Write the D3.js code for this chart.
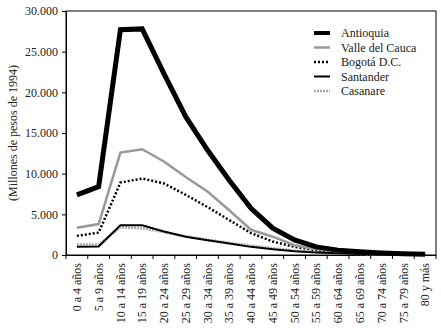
<!DOCTYPE html>
<html>
<head>
<meta charset="utf-8">
<script src="https://cdn.jsdelivr.net/npm/d3@7"></script>
<style>
  html, body { margin: 0; padding: 0; background: #fff; }
  svg text { font-family: "Liberation Serif", "DejaVu Serif", serif; fill: #222; }
</style>
</head>
<body>
<div id="chart"></div>
<script>
// Age groups
const categories = [
  '0 a 4 años', '5 a 9 años', '10 a 14 años', '15 a 19 años', '20 a 24 años',
  '25 a 29 años', '30 a 34 años', '35 a 39 años', '40 a 44 años', '45 a 49 años',
  '50 a 54 años', '55 a 59 años', '60 a 64 años', '65 a 69 años', '70 a 74 años',
  '75 a 79 años', '80 y más'
];

// Millones de pesos de 1994
const antioquia = [7400, 8400, 27700, 27800, 22300, 17000, 12900, 9200, 5750, 3300, 1850, 1000, 600, 400, 250, 150, 100];
const valle = [3350, 3800, 12600, 13000, 11500, 9600, 7800, 5500, 3100, 2250, 1200, 700, 450, 300, 200, 120, 80];
const bogota = [2350, 2750, 8900, 9400, 8800, 7400, 5900, 4300, 2700, 1650, 1000, 600, 350, 200, 120, 80, 50];
const santander = [1000, 1050, 3650, 3650, 2900, 2250, 1800, 1400, 1000, 700, 450, 300, 200, 120, 80, 50, 40];
const casanare = [1300, 1300, 3400, 3300, 2800, 2300, 1900, 1500, 1150, 850, 550, 350, 200, 120, 70, 40, 30];

const yTicks = [0, 5000, 10000, 15000, 20000, 25000, 30000];

const series = [
  { name: 'Antioquia', values: antioquia, color: '#000', width: 5, dash: null },
  { name: 'Valle del Cauca', values: valle, color: '#999', width: 2.5, dash: null },
  { name: 'Bogotá D.C.', values: bogota, color: '#000', width: 2.5, dash: '2,2' },
  { name: 'Santander', values: santander, color: '#000', width: 2, dash: null },
  { name: 'Casanare', values: casanare, color: '#aaa', width: 2.5, dash: '2,1' }
];

const width = 441;
const height = 328;
const margin = { top: 11, right: 5, bottom: 73, left: 66 };
const innerW = width - margin.left - margin.right;
const innerH = height - margin.top - margin.bottom;
const FS = '12px';

const locale = d3.formatLocale({ decimal: ',', thousands: '.', grouping: [3], currency: ['$', ''] });
const fmt = locale.format(',');

const svg = d3.select('#chart').append('svg').attr('width', width).attr('height', height);
const g = svg.append('g').attr('transform', `translate(${margin.left},${margin.top})`);

const x = d3.scaleBand().domain(categories).range([0, innerW]);
const y = d3.scaleLinear().domain([0, 30000]).range([innerH, 0]);

// frame
g.append('rect')
  .attr('x', 0).attr('y', 0)
  .attr('width', innerW).attr('height', innerH)
  .attr('fill', 'none').attr('stroke', '#000').attr('stroke-width', 1);

// y axis
const yAxis = g.append('g')
  .call(d3.axisLeft(y).tickValues(yTicks).tickSize(4).tickPadding(4).tickFormat(fmt));
yAxis.selectAll('text').style('font-size', FS);

// x axis: ticks at band boundaries
const xAxis = g.append('g').attr('transform', `translate(0,${innerH})`)
  .call(d3.axisBottom(x).tickSize(0).tickPadding(0));
xAxis.selectAll('.tick line').remove();
xAxis.selectAll('text')
  .style('font-size', FS)
  .attr('text-anchor', 'end')
  .attr('dy', '0.35em')
  .attr('transform', 'translate(0,8) rotate(-90)')
  .attr('x', 0).attr('y', 0);

const bounds = categories.map((c) => x(c)).concat([innerW]);
xAxis.selectAll('line.bt')
  .data(bounds)
  .enter()
  .append('line')
  .attr('class', 'bt')
  .attr('x1', (d) => d).attr('x2', (d) => d)
  .attr('y1', 0).attr('y2', 4)
  .attr('stroke', '#000');

svg.selectAll('.domain').attr('stroke', '#000');
svg.selectAll('.tick line').attr('stroke', '#000');

// lines
const line = d3.line()
  .x((d, i) => x(categories[i]) + x.bandwidth() / 2)
  .y((d) => y(d));

series.slice().reverse().forEach((s) => {
  g.append('path')
    .datum(s.values)
    .attr('fill', 'none')
    .attr('stroke', s.color)
    .attr('stroke-width', s.width)
    .attr('stroke-dasharray', s.dash)
    .attr('stroke-linejoin', 'miter')
    .attr('d', line);
});

// legend
const legend = svg.append('g').attr('transform', 'translate(314,33)');
series.forEach((s, i) => {
  const row = legend.append('g').attr('transform', `translate(0,${i * 14.5})`);
  row.append('line')
    .attr('x1', 0).attr('x2', 16)
    .attr('y1', 0).attr('y2', 0)
    .attr('stroke', s.color)
    .attr('stroke-width', s.width === 5 ? 4 : s.width)
    .attr('stroke-dasharray', s.dash);
  row.append('text')
    .attr('x', 27).attr('y', 0)
    .attr('dy', '0.35em')
    .style('font-size', FS)
    .text(s.name);
});

// y label
svg.append('text')
  .attr('transform', `translate(13,${margin.top + innerH / 2}) rotate(-90)`)
  .attr('text-anchor', 'middle')
  .attr('dy', '0.35em')
  .style('font-size', FS)
  .text('(Millones de pesos de 1994)');
</script>
</body>
</html>
